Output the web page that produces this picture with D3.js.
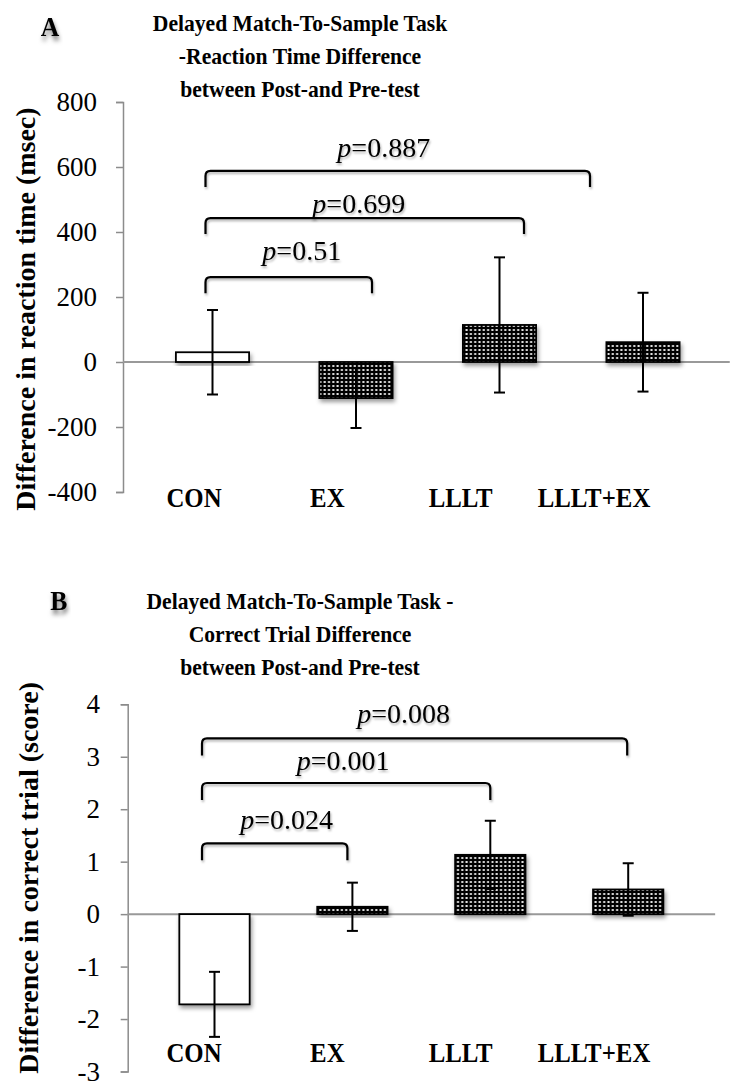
<!DOCTYPE html>
<html>
<head>
<meta charset="utf-8">
<script src="https://cdn.jsdelivr.net/npm/d3@7"></script>
<style>
  body { margin: 0; background: #fff; }
</style>
</head>
<body>
<script>
// groups
const categories = ['CON', 'EX', 'LLLT', 'LLLT+EX'];

// panel A: reaction time difference (msec)
const rtDiff = [30, -111, 114, 61];
const rtErr = [130, 92, 208, 152];
const rtTicks = [-400, -200, 0, 200, 400, 600, 800];
const rtCompareWith = ['EX', 'LLLT', 'LLLT+EX'];
const rtPValues = ['0.51', '0.699', '0.887'];
const rtBracketLevels = [261, 443, 588];
const rtLabelLevels = [314, 459, 631];

// panel B: correct trial difference (score)
const ctDiff = [-1.72, 0.14, 1.13, 0.47];
const ctErr = [0.62, 0.46, 0.65, 0.50];
const ctTicks = [-3, -2, -1, 0, 1, 2, 3, 4];
const ctCompareWith = ['EX', 'LLLT', 'LLLT+EX'];
const ctPValues = ['0.024', '0.001', '0.008'];
const ctBracketLevels = [1.35, 2.50, 3.35];
const ctLabelLevels = [1.63, 2.75, 3.64];

const width = 734, height = 1083;
const serif = "'Liberation Serif', 'Times New Roman', Times, 'DejaVu Serif', serif";

const svg = d3.select('body')
    .append('svg')
    .attr('width', width)
    .attr('height', height)
    .style('font-family', serif);

const defs = svg.append('defs');

const pat = defs.append('pattern')
    .attr('id', 'dots')
    .attr('patternUnits', 'userSpaceOnUse')
    .attr('width', 4.3)
    .attr('height', 4);
pat.append('rect').attr('width', 4.3).attr('height', 4).attr('fill', '#000');
pat.append('rect').attr('x', 1.2).attr('y', 1.1).attr('width', 2).attr('height', 1.8).attr('fill', '#fff');

function shadow(id, dx, dy, sd, op) {
    defs.append('filter')
        .attr('id', id)
        .attr('x', '-20%').attr('y', '-20%')
        .attr('width', '140%').attr('height', '160%')
        .append('feDropShadow')
        .attr('dx', dx).attr('dy', dy)
        .attr('stdDeviation', sd)
        .attr('flood-color', '#000')
        .attr('flood-opacity', op);
}
shadow('shadow', 1.5, 3, 2, 0.4);
shadow('textShadow', 1, 2, 1.2, 0.3);
shadow('letterShadow', 1, 4, 2.5, 0.55);

function txt(parent) {
    return parent.append('text').style('font-family', serif).attr('fill', '#000');
}

// text squeezed horizontally like the original
function squeezed(parent, x, y, str, size, bold, sx) {
    return txt(parent)
        .attr('transform', `translate(${x},${y}) scale(${sx},1)`)
        .attr('text-anchor', 'middle')
        .attr('font-size', size)
        .attr('font-weight', bold ? 'bold' : 'normal')
        .text(str);
}

function drawPanel(p) {
    const g = svg.append('g');

    const y = d3.scaleLinear()
        .domain(d3.extent(p.ticks))
        .range(p.yRange);

    const x = d3.scaleBand()
        .domain(categories)
        .range(p.xRange)
        .paddingInner(0.49)
        .paddingOuter(0.245);

    const labelX = d3.scalePoint()
        .domain(categories)
        .range([194, 594]);

    const cx = c => x(c) + x.bandwidth() / 2;

    // titles
    p.title.forEach((t, i) => {
        squeezed(g, 300, p.titleY + i * 32.8, t, 24, true, 0.9);
    });
    squeezed(g, p.letterX, p.letterY, p.letter, 27, true, 0.95)
        .attr('filter', 'url(#letterShadow)');

    // y axis
    const yAxis = d3.axisLeft(y)
        .tickValues(p.ticks)
        .tickSize(7)
        .tickPadding(p.tickPad)
        .tickFormat(d => String(d));

    const ax = g.append('g')
        .attr('class', 'y axis')
        .attr('transform', `translate(${p.axisX},0)`)
        .call(yAxis);
    ax.attr('font-family', null);
    ax.select('.domain').attr('stroke', '#8c8c8c').attr('stroke-width', 1.5);
    ax.selectAll('.tick line').attr('stroke', '#8c8c8c').attr('stroke-width', 1.5);
    ax.selectAll('.tick text')
        .style('font-family', serif)
        .style('font-size', '27px')
        .attr('fill', '#000');

    txt(g)
        .attr('transform', `translate(${p.yLabelX},${(p.yRange[0] + p.yRange[1]) / 2 + p.yLabelShift}) rotate(-90)`)
        .attr('text-anchor', 'middle')
        .attr('font-size', 28)
        .attr('font-weight', 'bold')
        .text(p.yLabel);

    // zero line
    g.append('line')
        .attr('x1', p.axisX)
        .attr('x2', p.xRange[1] + p.zeroExtra)
        .attr('y1', y(0))
        .attr('y2', y(0))
        .attr('stroke', '#999')
        .attr('stroke-width', 2);

    // bars
    g.selectAll('rect.bar')
        .data(p.values)
        .enter()
        .append('rect')
        .attr('class', 'bar')
        .attr('x', (d, i) => x(categories[i]))
        .attr('y', d => y(Math.max(0, d)))
        .attr('width', x.bandwidth())
        .attr('height', d => Math.abs(y(d) - y(0)))
        .attr('fill', (d, i) => i === 0 ? '#fff' : 'url(#dots)')
        .attr('stroke', '#000')
        .attr('stroke-width', 1.8)
        .attr('filter', 'url(#shadow)');

    // error bars
    const eb = g.selectAll('g.err')
        .data(p.values)
        .enter()
        .append('g')
        .attr('class', 'err')
        .attr('stroke', '#000')
        .attr('stroke-width', 2);
    eb.append('line')
        .attr('x1', (d, i) => cx(categories[i]))
        .attr('x2', (d, i) => cx(categories[i]))
        .attr('y1', (d, i) => y(d + p.errors[i]))
        .attr('y2', (d, i) => y(d - p.errors[i]));
    [1, -1].forEach(s => {
        eb.append('line')
            .attr('x1', (d, i) => cx(categories[i]) - 5.5)
            .attr('x2', (d, i) => cx(categories[i]) + 5.5)
            .attr('y1', (d, i) => y(d + s * p.errors[i]))
            .attr('y2', (d, i) => y(d + s * p.errors[i]));
    });

    // significance brackets
    p.compareWith.forEach((c, i) => {
        const x1 = cx(categories[0]) + p.leftShift;
        const x2 = cx(c) + p.rightShift[i];
        const top = y(p.bracketLevels[i]);
        const bot = top + p.leg;
        const r = 5;
        g.append('path')
            .attr('d', `M${x1},${bot} L${x1},${top + r} Q${x1},${top} ${x1 + r},${top} ` +
                       `L${x2 - r},${top} Q${x2},${top} ${x2},${top + r} L${x2},${bot}`)
            .attr('fill', 'none')
            .attr('stroke', '#000')
            .attr('stroke-width', 2.2)
            .attr('filter', 'url(#textShadow)');

        const t = txt(g)
            .attr('x', (x1 + x2) / 2 + p.labelShift[i])
            .attr('y', y(p.labelLevels[i]))
            .attr('text-anchor', 'middle')
            .attr('font-size', 28)
            .attr('filter', 'url(#textShadow)');
        t.append('tspan').attr('font-style', 'italic').text('p');
        t.append('tspan').text('=' + p.pValues[i]);
    });

    // category labels
    categories.forEach(c => {
        squeezed(g, labelX(c), p.catY, c, 27, true, 0.92);
    });
}

drawPanel({
    letter: 'A', letterX: 50, letterY: 36,
    title: ['Delayed Match-To-Sample Task', '-Reaction Time Difference', 'between Post-and Pre-test'],
    titleY: 31,
    yLabel: 'Difference in reaction time (msec)',
    yLabelX: 35, yLabelShift: 12,
    ticks: rtTicks, yRange: [492, 102],
    xRange: [140.75, 714.75], axisX: 123, tickPad: 19, zeroExtra: 15,
    values: rtDiff, errors: rtErr,
    compareWith: rtCompareWith, pValues: rtPValues,
    bracketLevels: rtBracketLevels, labelLevels: rtLabelLevels,
    leftShift: -7, rightShift: [16, 24.5, -53], leg: 16,
    labelShift: [13, -6, -14],
    catY: 507
});

drawPanel({
    letter: 'B', letterX: 58.7, letterY: 610,
    title: ['Delayed Match-To-Sample Task -', 'Correct Trial Difference', 'between Post-and Pre-test'],
    titleY: 609,
    yLabel: 'Difference in correct trial (score)',
    yLabelX: 38, yLabelShift: -10,
    ticks: ctTicks, yRange: [1071.5, 704.3],
    xRange: [145.55, 697.15], axisX: 127.7, tickPad: 20.7, zeroExtra: 18,
    values: ctDiff, errors: ctErr,
    compareWith: ctCompareWith, pValues: ctPValues,
    bracketLevels: ctBracketLevels, labelLevels: ctLabelLevels,
    leftShift: -12.5, rightShift: [-5, 0, -1], leg: 17,
    labelShift: [12, -3, -11],
    catY: 1062
});
</script>
</body>
</html>
